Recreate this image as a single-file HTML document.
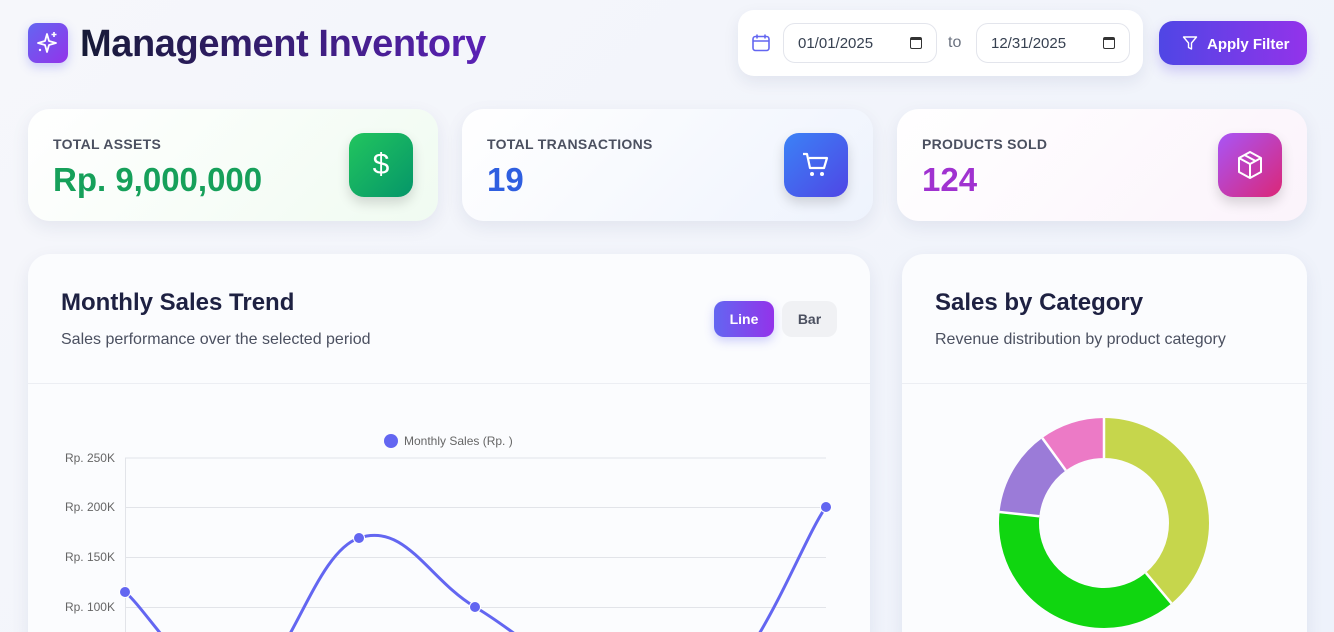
<!DOCTYPE html>
<html><head><meta charset="utf-8"><style>
*{box-sizing:border-box;margin:0;padding:0}
html,body{width:1334px;height:632px;overflow:hidden}
body{font-family:"Liberation Sans",sans-serif;background:linear-gradient(135deg,#f6f7fb,#eef2fb);position:relative}
#wrap{position:absolute;left:0;top:0;width:1334px;height:632px;overflow:hidden}
.abs{position:absolute}
.card{position:absolute;border-radius:22px;background:#fff;box-shadow:0 6px 18px rgba(30,40,90,.08)}
.lbl{position:absolute;left:25px;top:27px;font-size:14px;font-weight:bold;color:#4b5060;letter-spacing:.3px}
.val{position:absolute;left:25px;top:52px;font-size:33px;font-weight:bold}
.ic{position:absolute;top:24px;width:64px;height:64px;border-radius:15px;display:flex;align-items:center;justify-content:center;box-shadow:0 6px 12px rgba(0,0,0,.15)}
.date{position:absolute;top:13px;width:154px;height:40px;border:1px solid #e3e5ec;border-radius:12px;background:#fff;font-size:15px;color:#374151;padding:11px 0 0 14px}
</style></head><body><div id="wrap">
<div class="abs" style="left:28px;top:23px;width:40px;height:40px;border-radius:9px;background:linear-gradient(135deg,#6366f1,#9333ea);box-shadow:0 4px 10px rgba(99,102,241,.3)">
<svg width="40" height="40" viewBox="0 0 40 40"><path d="M19 11 L21 18 L28 20 L21 22 L19 29 L17 22 L10 20 L17 18Z" fill="none" stroke="#fff" stroke-width="1.8" stroke-linejoin="round"/><path d="M26 9v5M23.5 11.5h5" stroke="#fff" stroke-width="1.6"/><circle cx="12" cy="27" r="1.2" fill="#fff"/></svg></div>
<div class="abs" style="left:80px;top:23px;font-size:38px;font-weight:bold;background:linear-gradient(90deg,#161a36,#5b21b6);-webkit-background-clip:text;color:transparent;letter-spacing:-.4px">Management Inventory</div>

<div class="abs" style="left:738px;top:10px;width:405px;height:66px;border-radius:16px;background:#fff;box-shadow:0 6px 16px rgba(30,40,90,.08)">
<svg class="abs" style="left:13px;top:23px" width="20" height="20" viewBox="0 0 20 20"><rect x="2" y="3.5" width="16" height="14" rx="2.5" fill="none" stroke="#6366f1" stroke-width="1.6"/><path d="M2 8h16M6 1.5v4M14 1.5v4" stroke="#6366f1" stroke-width="1.6"/></svg>
<div class="date" style="left:45px">01/01/2025<span style="position:absolute;right:14px;top:13px;width:12px;height:12px;border:1.5px solid #333;border-radius:2px;border-top-width:3px"></span></div>
<div class="abs" style="left:210px;top:24px;font-size:16px;color:#6b7280">to</div>
<div class="date" style="left:238px">12/31/2025<span style="position:absolute;right:14px;top:13px;width:12px;height:12px;border:1.5px solid #333;border-radius:2px;border-top-width:3px"></span></div>
</div>
<div class="abs" style="left:1159px;top:21px;width:148px;height:44px;border-radius:14px;background:linear-gradient(90deg,#4f46e5,#9333ea);color:#fff;font-size:15px;font-weight:bold;padding:15px 0 0 48px;box-shadow:0 6px 12px rgba(99,70,230,.25)">Apply Filter
<svg class="abs" style="left:23px;top:14px" width="16" height="16" viewBox="0 0 16 16"><path d="M1.5 2h13l-5 6v6l-3-1.5V8z" fill="none" stroke="#fff" stroke-width="1.4" stroke-linejoin="round"/></svg></div>

<div class="card" style="left:28px;top:109px;width:410px;height:112px;background:linear-gradient(135deg,#fff,#f0fbf1)">
<div class="lbl">TOTAL ASSETS</div><div class="val" style="color:#16a05a">Rp. 9,000,000</div>
<div class="ic" style="left:321px;background:linear-gradient(135deg,#22c55e,#059669);color:#fff;font-size:30px">$</div></div>
<div class="card" style="left:462px;top:109px;width:411px;height:112px;background:linear-gradient(135deg,#fff,#eef3fd)">
<div class="lbl">TOTAL TRANSACTIONS</div><div class="val" style="color:#2f5fe0">19</div>
<div class="ic" style="left:322px;background:linear-gradient(135deg,#3b82f6,#4f46e5)"><svg width="32" height="32" viewBox="0 0 32 32"><path d="M3 5h4l3 14h14l3-10H9" fill="none" stroke="#fff" stroke-width="2.2" stroke-linejoin="round"/><circle cx="12" cy="25" r="2" fill="#fff"/><circle cx="22" cy="25" r="2" fill="#fff"/></svg></div></div>
<div class="card" style="left:897px;top:109px;width:410px;height:112px;background:linear-gradient(135deg,#fff,#fbf3fb)">
<div class="lbl">PRODUCTS SOLD</div><div class="val" style="color:#a032d0">124</div>
<div class="ic" style="left:321px;background:linear-gradient(135deg,#a855f7,#db2777)"><svg width="32" height="32" viewBox="0 0 32 32"><path d="M16 3l11 6v14l-11 6-11-6V9z M5 9l11 6 11-6 M16 15v14 M10.5 6l11 6" fill="none" stroke="#fff" stroke-width="2" stroke-linejoin="round"/></svg></div></div>

<div class="card" style="left:28px;top:254px;width:842px;height:400px;background:#fbfcfe">
<div class="abs" style="left:33px;top:35px;font-size:24px;font-weight:bold;color:#1e2142">Monthly Sales Trend</div>
<div class="abs" style="left:33px;top:77px;font-size:16px;color:#4b5060">Sales performance over the selected period</div>
<div class="abs" style="left:686px;top:47px;width:60px;height:36px;border-radius:10px;background:linear-gradient(90deg,#6366f1,#9333ea);color:#fff;font-size:14px;font-weight:bold;text-align:center;line-height:36px;box-shadow:0 4px 10px rgba(99,102,241,.3)">Line</div>
<div class="abs" style="left:754px;top:47px;width:55px;height:36px;border-radius:10px;background:#f0f1f4;color:#4b5060;font-size:14px;font-weight:bold;text-align:center;line-height:36px">Bar</div>
<div class="abs" style="left:0;top:129px;width:842px;height:1px;background:#eceef3"></div>
</div>
<div class="card" style="left:902px;top:254px;width:405px;height:400px;background:#fbfcfe">
<div class="abs" style="left:33px;top:35px;font-size:24px;font-weight:bold;color:#1e2142">Sales by Category</div>
<div class="abs" style="left:33px;top:77px;font-size:16px;color:#4b5060">Revenue distribution by product category</div>
<div class="abs" style="left:0;top:129px;width:405px;height:1px;background:#eceef3"></div>
</div>

<svg class="abs" style="left:0;top:0" width="1334" height="632">
<g stroke="#e2e4e9" stroke-width="1">
<line x1="125" y1="458" x2="826" y2="458"/><line x1="125" y1="507.5" x2="826" y2="507.5"/><line x1="125" y1="557.5" x2="826" y2="557.5"/><line x1="125" y1="607.5" x2="826" y2="607.5"/><line x1="125.5" y1="458" x2="125.5" y2="632"/></g>
<g font-size="12" fill="#666" text-anchor="end" font-family="Liberation Sans,sans-serif">
<text x="115" y="462">Rp. 250K</text><text x="115" y="511">Rp. 200K</text><text x="115" y="561">Rp. 150K</text><text x="115" y="611">Rp. 100K</text></g>
<circle cx="391" cy="441" r="7" fill="#6366f1"/><text x="404" y="445" font-size="12" fill="#666" font-family="Liberation Sans,sans-serif">Monthly Sales (Rp. )</text>
<path d="M125 592 C148.4 610.8 195.2 696.8 242 686 C288.8 675.2 312.4 553.8 359 538 C405.6 522.2 428.4 579.4 475 607 C521.6 634.6 545.2 664.2 592 676 C638.8 687.8 662.2 705 709 690 C755.8 670 802.6 538.8 826 507" fill="none" stroke="#6366f1" stroke-width="3"/>
<g fill="#6366f1" stroke="#fff" stroke-width="1"><circle cx="125" cy="592" r="5.5"/><circle cx="359" cy="538" r="5.5"/><circle cx="475" cy="607" r="5.5"/><circle cx="826" cy="507" r="5.5"/></g>
<g transform="translate(1104,523) rotate(-90)" fill="none" stroke-width="40">
<circle r="85" stroke="#c6d64c" stroke-dasharray="207.7 1000" />
<circle r="85" stroke="#10d610" stroke-dasharray="201.8 1000" transform="rotate(140)"/>
<circle r="85" stroke="#9b7bd8" stroke-dasharray="71.2 1000" transform="rotate(276)"/>
<circle r="85" stroke="#ec7ac6" stroke-dasharray="53.4 1000" transform="rotate(324)"/>
</g>
<g stroke="#fff" stroke-width="2.5">
<line x1="1104" y1="458" x2="1104" y2="418"/>
<line x1="1145.8" y1="572.8" x2="1171.5" y2="603.4"/>
<line x1="1039.3" y1="516.2" x2="999.5" y2="512"/>
<line x1="1065.8" y1="470.4" x2="1042.3" y2="438"/>
</g>
</svg>
</div></body></html>
